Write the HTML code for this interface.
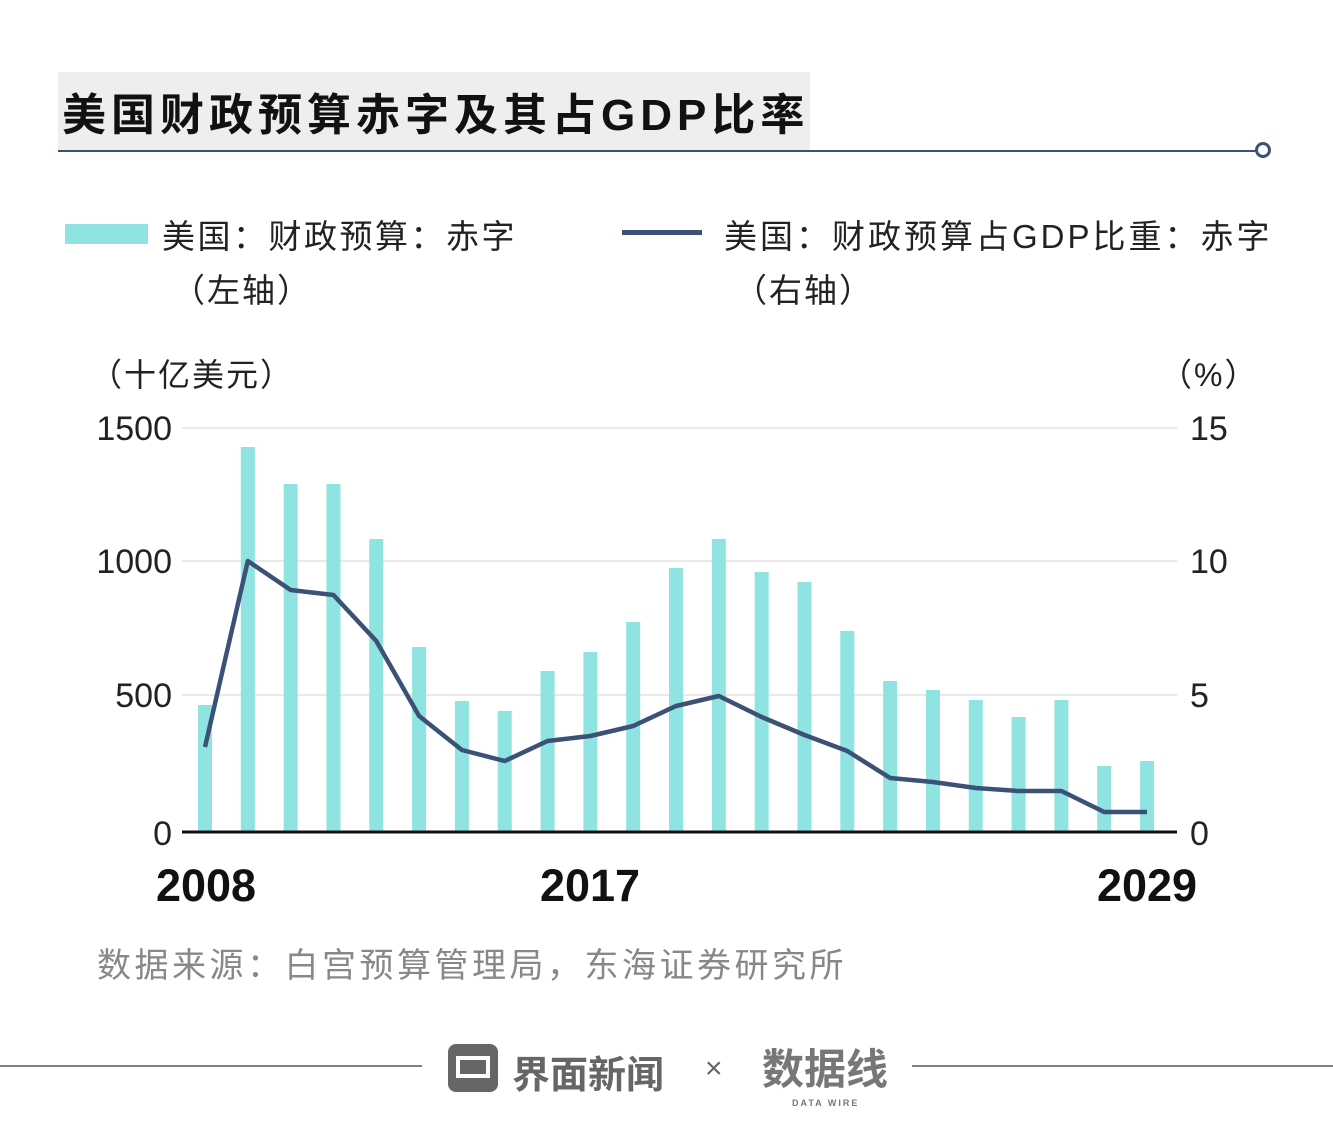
<!DOCTYPE html>
<html><head><meta charset="utf-8"><style>
body{margin:0;background:#fff;width:1333px;height:1138px;overflow:hidden;position:relative;font-family:"Liberation Sans","Noto Sans CJK SC",sans-serif}
.t{position:absolute;white-space:nowrap}
</style></head><body>
<div class="t" style="left:58px;top:72px;width:752px;height:78px;background:#eeeeee"></div>
<div class="t" style="left:62px;top:79px;font-size:44px;font-weight:bold;color:#111;letter-spacing:5px">美国财政预算赤字及其占GDP比率</div>
<div class="t" style="left:58px;top:150px;width:1200px;height:1.5px;background:#3b5276"></div>
<div class="t" style="left:1255px;top:142px;width:10px;height:10px;border:3px solid #3b5276;border-radius:50%"></div>

<div class="t" style="left:65px;top:224px;width:83px;height:20px;background:#8fe3e1"></div>
<div class="t" style="left:162px;top:210px;font-size:33px;color:#222;letter-spacing:2.5px">美国：财政预算：赤字</div>
<div class="t" style="left:172px;top:264px;font-size:33px;color:#222;letter-spacing:2px">（左轴）</div>
<div class="t" style="left:622px;top:230px;width:80px;height:5px;background:#3b5276"></div>
<div class="t" style="left:724px;top:210px;font-size:33px;color:#222;letter-spacing:3px">美国：财政预算占GDP比重：赤字</div>
<div class="t" style="left:734px;top:264px;font-size:33px;color:#222;letter-spacing:2px">（右轴）</div>

<div class="t" style="left:90px;top:350px;font-size:32px;color:#222;letter-spacing:2px">（十亿美元）</div>
<div class="t" style="left:1160px;top:350px;font-size:32px;color:#222;letter-spacing:2px">（%）</div>

<svg class="t" style="left:0;top:0" width="1333" height="1138">
<g stroke="#e2e2e2" stroke-width="1.5"><line x1="182" y1="428" x2="1177" y2="428"/><line x1="182" y1="561" x2="1177" y2="561"/><line x1="182" y1="695" x2="1177" y2="695"/></g>
<g fill="#8fe3e1" id="b"></g>
<line x1="182" y1="832" x2="1177" y2="832" stroke="#111" stroke-width="3"/>
<polyline id="l" fill="none" stroke="#3b5276" stroke-width="4.5" stroke-linejoin="round"/>
<g font-size="34" fill="#222" font-family="Liberation Sans,sans-serif">
<text x="172" y="440" text-anchor="end">1500</text><text x="172" y="573" text-anchor="end">1000</text><text x="172" y="707" text-anchor="end">500</text><text x="172" y="845" text-anchor="end">0</text>
<text x="1190" y="440">15</text><text x="1190" y="573">10</text><text x="1190" y="707">5</text><text x="1190" y="845">0</text>
</g>
<g font-size="45" font-weight="bold" fill="#111" font-family="Liberation Sans,sans-serif" text-anchor="middle">
<text x="206" y="901">2008</text><text x="590" y="901">2017</text><text x="1147" y="901">2029</text></g>
<line x1="0" y1="1066" x2="422" y2="1066" stroke="#555" stroke-width="1.5"/>
<line x1="912" y1="1066" x2="1333" y2="1066" stroke="#555" stroke-width="1.5"/>
<rect x="448" y="1044" width="50" height="48" rx="8" fill="#666"/>
<rect x="458" y="1058" width="30" height="18" fill="none" stroke="#fff" stroke-width="4"/>
</svg>
<div class="t" style="left:97px;top:938px;font-size:34px;color:#888;letter-spacing:3.5px">数据来源：白宫预算管理局，东海证券研究所</div>
<div class="t" style="left:512px;top:1044px;font-size:38px;font-weight:bold;color:#666">界面新闻</div>
<div class="t" style="left:705px;top:1052px;font-size:30px;color:#666">×</div>
<div class="t" style="left:762px;top:1036px;font-size:42px;font-weight:bold;color:#777">数据线</div>
<div class="t" style="left:792px;top:1098px;font-size:9px;font-weight:bold;color:#777;letter-spacing:2px">DATA WIRE</div>
<script>
var tops=[705,447,484,484,539,647,701,711,671,652,622,568,539,572,582,631,681,690,700,717,700,766,761];
var ly=[747,561,590,595,641,716,750,761,741,736,726,706,696,717,735,751,778,782,788,791,791,812,812];
var g=document.getElementById('b'),p=[];
for(var i=0;i<23;i++){var x=205+i*42.82;
var r=document.createElementNS('http://www.w3.org/2000/svg','rect');
r.setAttribute('x',x-7);r.setAttribute('y',tops[i]);r.setAttribute('width',14);r.setAttribute('height',832-tops[i]);g.appendChild(r);
p.push(x+','+ly[i]);}
document.getElementById('l').setAttribute('points',p.join(' '));
</script>
</body></html>
